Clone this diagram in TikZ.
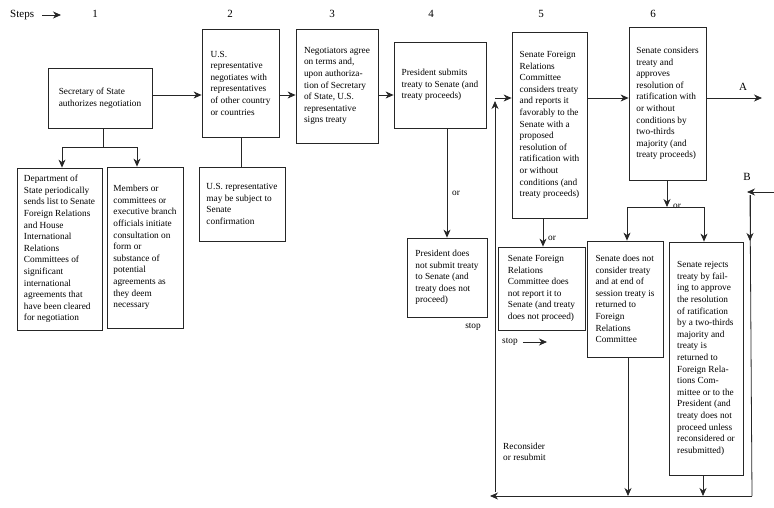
\documentclass[tikz,border=0pt]{standalone}
\usepackage{fontspec}
\setmainfont{Liberation Serif}
\usetikzlibrary{arrows.meta}
\newcommand\fs{\fontsize{9.3}{11.6}\selectfont}
\begin{document}
\begin{tikzpicture}[x=1pt,y=-1pt,
  box/.style={draw=black!85, line width=0.8pt, align=left, inner sep=0pt, font=\fs},
  arr/.style={draw=black!85, line width=0.8pt, -{Stealth[length=8pt,width=7pt,inset=2.5pt]}},
  ln/.style={draw=black!85, line width=0.8pt},
  lbl/.style={font=\fs, inner sep=0pt},
  num/.style={font=\fontsize{11}{13}\selectfont, inner sep=0pt}]
\useasboundingbox (0,0) rectangle (774,507);

% header
\node[num, anchor=west] (steps) at (10,15) {Steps};
\coordinate (stepsend) at (61,15);
\draw[arr] (42,15) -- (stepsend);
\node[num] (n1) at (95,14) {1};
\node[num] (n2) at (230,14) {2};
\node[num] (n3) at (332,14) {3};
\node[num] (n4) at (431,14) {4};
\node[num] (n5) at (541,14) {5};
\node[num] (n6) at (653,14) {6};

% boxes
\node[box, minimum width=104pt, minimum height=60pt] (sec) at (100,98)
  {Secretary of State\\authorizes negotiation};
\node[box, minimum width=77pt, minimum height=108pt] (neg) at (240.5,83)
  {U.S.\\representative\\negotiates with\\representatives\\of other country\\or countries};
\node[box, minimum width=82pt, minimum height=114pt] (sign) at (337,86)
  {Negotiators agree\\on terms and,\\upon authoriza-\\tion of Secretary\\of State, U.S.\\representative\\signs treaty};
\node[box, minimum width=92pt, minimum height=86pt] (sub) at (440,85)
  {President submits\\treaty to Senate (and\\treaty proceeds)};
\node[box, minimum width=75pt, minimum height=186pt] (sfrc) at (549.5,125)
  {Senate Foreign\\Relations\\Committee\\considers treaty\\and reports it\\favorably to the\\Senate with a\\proposed\\resolution of\\ratification with\\or without\\conditions (and\\treaty proceeds)};
\node[box, minimum width=77pt, minimum height=153pt] (cons) at (667.5,103.5)
  {Senate considers\\treaty and\\approves\\resolution of\\ratification with\\or without\\conditions by\\two-thirds\\majority (and\\treaty proceeds)};
\node[box, minimum width=85pt, minimum height=162pt] (dept) at (59.5,249)
  {Department of\\State periodically\\sends list to Senate\\Foreign Relations\\and House\\International\\Relations\\Committees of\\significant\\international\\agreements that\\have been cleared\\for negotiation};
\node[box, minimum width=76pt, minimum height=161pt] (memb) at (145,247.5)
  {Members or\\committees or\\executive branch\\officials initiate\\consultation on\\form or\\substance of\\potential\\agreements as\\they deem\\necessary};
\node[box, minimum width=86pt, minimum height=74pt] (conf) at (242,204)
  {U.S. representative\\may be subject to\\Senate\\confirmation};
\node[box, minimum width=80pt, minimum height=79pt] (pnot) at (447,277.5)
  {President does\\not submit treaty\\to Senate (and\\treaty does not\\proceed)};
\node[box, minimum width=87pt, minimum height=83pt] (snot) at (541.5,288.5)
  {Senate Foreign\\Relations\\Committee does\\not report it to\\Senate (and treaty\\does not proceed)};
\node[box, minimum width=76pt, minimum height=116pt] (sncons) at (625,299)
  {Senate does not\\consider treaty\\and at end of\\session treaty is\\returned to\\Foreign\\Relations\\Committee};
\node[box, minimum width=74pt, minimum height=233pt] (rej) at (706,358.5)
  {Senate rejects\\treaty by fail-\\ing to approve\\the resolution\\of ratification\\by a two-thirds\\majority and\\treaty is\\returned to\\Foreign Rela-\\tions Com-\\mittee or to the\\President (and\\treaty does not\\proceed unless\\reconsidered or\\resubmitted)};

% labels
\node[lbl] (orA) at (456,193) {or};
\node[lbl] (stopA) at (473,327) {stop};
\node[lbl] (orB) at (552,238) {or};
\node[lbl, anchor=west] (stopB) at (502,342) {stop};
\coordinate (stopBend) at (547,342);
\node[lbl, fill=white, inner sep=1pt] (orC) at (677,206) {or};
\node[num] (A) at (743,87) {A};
\node[num] (B) at (747,177) {B};
\node[lbl, align=left, anchor=west] (recon) at (503,452) {Reconsider\\or resubmit};

% coordinates
\coordinate (Aend) at (762,98);
\coordinate (Bstart) at (774,192);
\coordinate (Bend) at (747,192);
\coordinate (Btop) at (750,195);
\coordinate (Bmid) at (750,241);
\coordinate (bR) at (752,496);
\coordinate (bL) at (490,496);
\coordinate (lBot) at (495,492);
\coordinate (lTop) at (495,101);
\coordinate (lCor) at (495,98);
\coordinate (jc) at (667,207);
\coordinate (j1) at (627,207);
\coordinate (j2) at (704,207);
\coordinate (s1) at (103,147);
\coordinate (s1L) at (62,147);
\coordinate (s1R) at (137,147);
\coordinate (c2) at (241,137);

% main flow
\draw[arr] (sec.east |- 0,95) -- (neg.west |- 0,95);
\draw[arr] (neg.east |- 0,95) -- (sign.west |- 0,95);
\draw[arr] (sign.east |- 0,95) -- (sub.west |- 0,95);
\draw[arr] (sfrc.east |- 0,98) -- (cons.west |- 0,98);
\draw[arr] (cons.east |- 0,98) -- (Aend);
\draw[arr] (lCor) -- (sfrc.west |- lCor);
\draw[arr] (lBot) -- (lTop);

% step 1 branches
\draw[ln] (s1 |- sec.south) -- (s1);
\draw[ln] (s1L) -- (s1R);
\draw[arr] (s1L) -- (s1L |- dept.north);
\draw[arr] (s1R) -- (s1R |- memb.north);
% step 2
\draw[ln] (c2) -- (c2 |- conf.north);
% step 4
\draw[arr] (sub.south -| pnot.north) -- (pnot.north);
% step 5
\draw[arr] (sfrc.south -| 543,0) -- (snot.north -| 543,0);
\draw[arr] (stopB.east) ++(5,0) -- (stopBend);
% step 6
\draw[ln] (j1) -- (j2);
\draw[arr] (cons.south -| jc) -- (jc);
\draw[arr] (j1) -- (j1 |- sncons.north);
\draw[arr] (j2) -- (j2 |- rej.north);
% bottom
\draw[arr] (sncons.south -| 628,0) -- (628,496);
\draw[arr] (rej.south -| 703,0) -- (703,496);
\draw[arr] (bR) -- (bL);
\draw[arr] (Bstart) -- (Bend);
\draw[ln] (Btop) -- (bR);
\draw[arr] (Btop) -- (Bmid);
\end{tikzpicture}
\end{document}
